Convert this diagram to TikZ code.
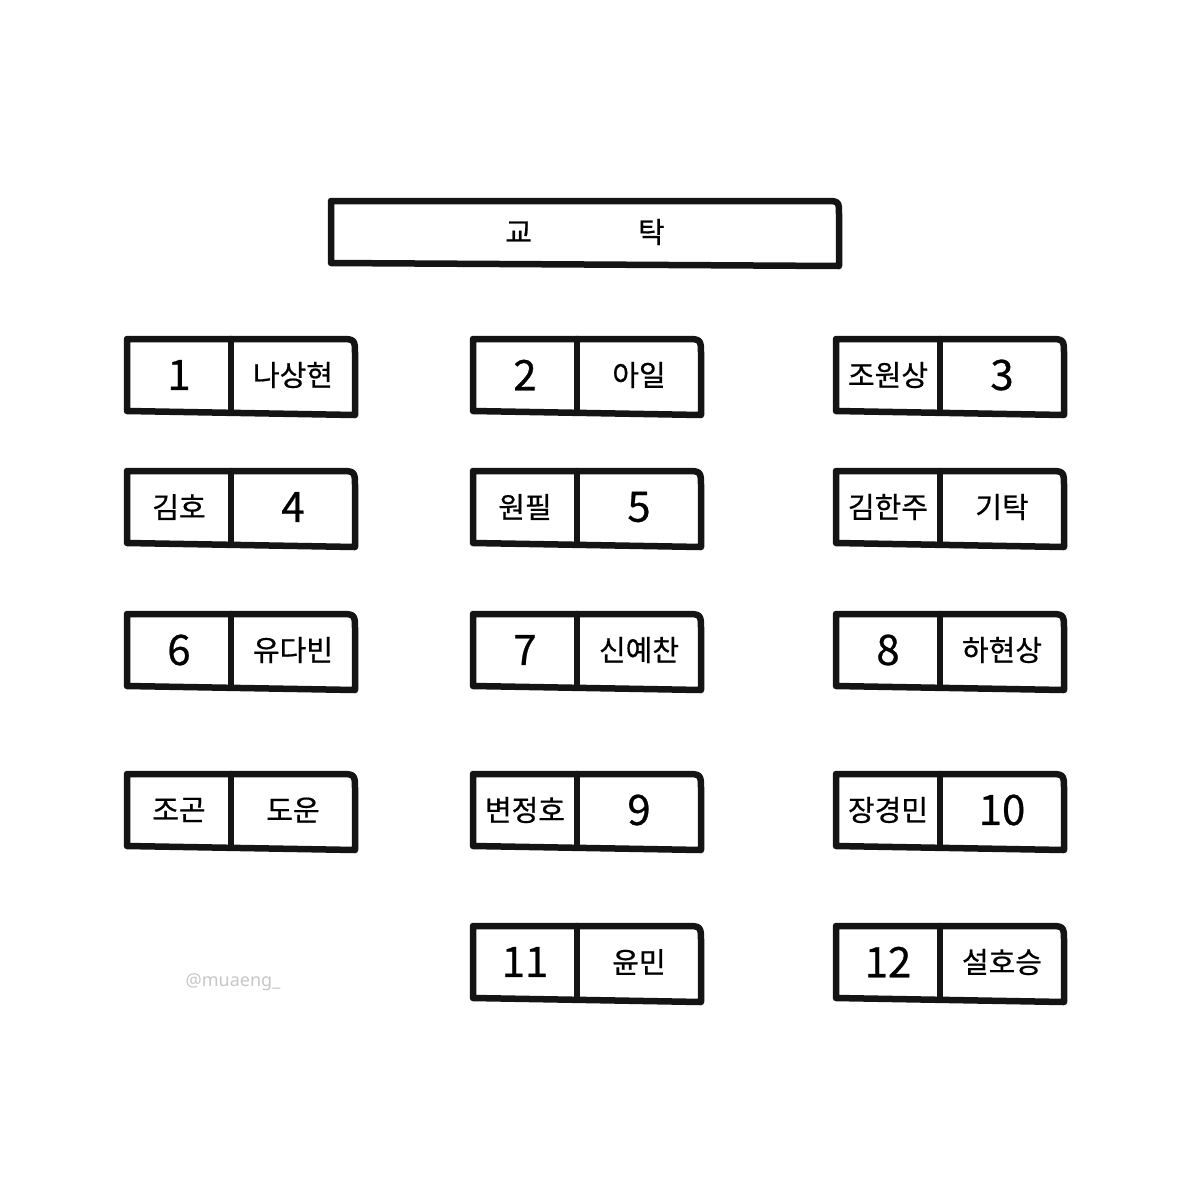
\documentclass[tikz,border=0pt]{standalone}
\usepackage{fontspec}
\setmainfont{Noto Sans CJK KR}[FakeBold=0.6]
\newfontfamily\wmfont{Noto Sans}
\usetikzlibrary{calc}
\tikzset{
  deskline/.style={line width=6.5pt, line join=round, line cap=round, draw=black!92},
  lcell/.style={minimum width=104pt, minimum height=72pt, inner sep=0pt, outer sep=0pt, font=\fontsize{29}{32}\selectfont},
  rcell/.style={minimum width=124pt, minimum height=72pt, inner sep=0pt, outer sep=0pt, font=\fontsize{29}{32}\selectfont},
  board/.style={minimum width=508pt, minimum height=62pt, inner sep=0pt, outer sep=0pt, font=\fontsize{29}{32}\selectfont},
}
\newcommand{\nm}[1]{{\fontsize{42}{46}\selectfont #1}}
\newcommand{\seat}[5]{%
  \node[lcell] (#1l) at (#2+52,#3+36) {#4};
  \node[rcell] (#1r) at (#2+166,#3+36) {#5};
  \draw[deskline] (#1l.south west) -- (#1l.north west) -- ($(#1r.north east)+(-16,0)$)
     .. controls (#1r.north east) .. ($(#1r.north east)+(0,16)$) -- ($(#1r.south east)+(0,4)$) -- cycle;
  \draw[deskline] (#1l.north east) -- (#1l.south east);
}
\begin{document}
\begin{tikzpicture}[x=1pt,y=-1pt]
\useasboundingbox[fill=white] (0,0) rectangle (1200,1200);
% teacher desk
\node[board] (board) at (585,232) {교\hspace{106pt}탁};
\draw[deskline] (board.south west) -- (board.north west) -- ($(board.north east)+(-14,0)$)
   .. controls (board.north east) .. ($(board.north east)+(0,14)$) -- ($(board.south east)+(0,3)$) -- cycle;
% row 1
\seat{a}{127}{339}{\nm{1}}{나상현}
\seat{b}{473}{339}{\nm{2}}{아일}
\seat{c}{836}{339}{조원상}{\nm{3}}
% row 2
\seat{d}{127}{471}{김호}{\nm{4}}
\seat{e}{473}{471}{원필}{\nm{5}}
\seat{f}{836}{471}{김한주}{기탁}
% row 3
\seat{g}{127}{614}{\nm{6}}{유다빈}
\seat{h}{473}{614}{\nm{7}}{신예찬}
\seat{i}{836}{614}{\nm{8}}{하현상}
% row 4
\seat{j}{127}{774}{조곤}{도운}
\seat{k}{473}{774}{변정호}{\nm{9}}
\seat{m}{836}{774}{장경민}{\nm{10}}
% row 5
\seat{n}{473}{926}{\nm{11}}{윤민}
\seat{o}{836}{926}{\nm{12}}{설호승}
% watermark
\node[text=black!22, font=\wmfont\fontsize{18}{20}\selectfont] (wm) at (233,982) {@muaeng\_};
\end{tikzpicture}
\end{document}
